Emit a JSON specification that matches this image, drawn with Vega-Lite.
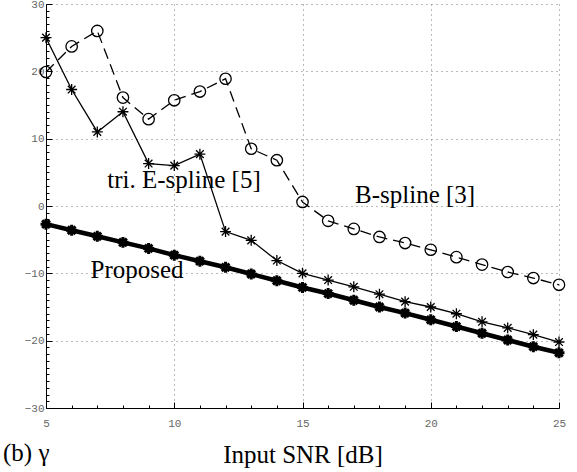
{
  "$schema": "https://vega.github.io/schema/vega-lite/v6.json",
  "width": 513,
  "height": 404,
  "autosize": {"type": "none"},
  "padding": {"left": 46, "top": 4, "right": 18, "bottom": 64},
  "background": "white",
  "title": {
    "text": "(b) γ",
    "orient": "bottom",
    "anchor": "start",
    "frame": "group",
    "font": "Liberation Serif",
    "fontSize": 25,
    "fontWeight": "normal",
    "color": "black",
    "baseline": "alphabetic",
    "offset": -6,
    "dx": -43
  },
  "config": {
    "view": {"stroke": null},
    "axis": {
      "domainColor": "black",
      "domainWidth": 1,
      "tickColor": "black",
      "tickWidth": 1,
      "gridColor": "#777",
      "gridDash": [1, 4],
      "gridWidth": 1,
      "labelFont": "Liberation Mono",
      "labelFontSize": 11,
      "labelColor": "#666",
      "titleFont": "Liberation Serif",
      "titleFontSize": 25,
      "titleFontWeight": "normal",
      "titleColor": "black"
    }
  },
  "datasets": {
    "curves": [
      {"snr": 5, "gamma": -2.7, "method": "Proposed"},
      {"snr": 6, "gamma": -3.6, "method": "Proposed"},
      {"snr": 7, "gamma": -4.5, "method": "Proposed"},
      {"snr": 8, "gamma": -5.4, "method": "Proposed"},
      {"snr": 9, "gamma": -6.3, "method": "Proposed"},
      {"snr": 10, "gamma": -7.3, "method": "Proposed"},
      {"snr": 11, "gamma": -8.2, "method": "Proposed"},
      {"snr": 12, "gamma": -9.1, "method": "Proposed"},
      {"snr": 13, "gamma": -10.1, "method": "Proposed"},
      {"snr": 14, "gamma": -11.1, "method": "Proposed"},
      {"snr": 15, "gamma": -12.1, "method": "Proposed"},
      {"snr": 16, "gamma": -13.0, "method": "Proposed"},
      {"snr": 17, "gamma": -14.0, "method": "Proposed"},
      {"snr": 18, "gamma": -15.0, "method": "Proposed"},
      {"snr": 19, "gamma": -15.9, "method": "Proposed"},
      {"snr": 20, "gamma": -16.9, "method": "Proposed"},
      {"snr": 21, "gamma": -17.9, "method": "Proposed"},
      {"snr": 22, "gamma": -18.9, "method": "Proposed"},
      {"snr": 23, "gamma": -19.9, "method": "Proposed"},
      {"snr": 24, "gamma": -20.9, "method": "Proposed"},
      {"snr": 25, "gamma": -21.8, "method": "Proposed"},
      {"snr": 5, "gamma": 25.0, "method": "tri"},
      {"snr": 6, "gamma": 17.3, "method": "tri"},
      {"snr": 7, "gamma": 11.0, "method": "tri"},
      {"snr": 8, "gamma": 14.0, "method": "tri"},
      {"snr": 9, "gamma": 6.3, "method": "tri"},
      {"snr": 10, "gamma": 6.0, "method": "tri"},
      {"snr": 11, "gamma": 7.7, "method": "tri"},
      {"snr": 12, "gamma": -3.8, "method": "tri"},
      {"snr": 13, "gamma": -5.1, "method": "tri"},
      {"snr": 14, "gamma": -8.1, "method": "tri"},
      {"snr": 15, "gamma": -10.0, "method": "tri"},
      {"snr": 16, "gamma": -11.0, "method": "tri"},
      {"snr": 17, "gamma": -12.0, "method": "tri"},
      {"snr": 18, "gamma": -13.1, "method": "tri"},
      {"snr": 19, "gamma": -14.2, "method": "tri"},
      {"snr": 20, "gamma": -15.0, "method": "tri"},
      {"snr": 21, "gamma": -16.0, "method": "tri"},
      {"snr": 22, "gamma": -17.2, "method": "tri"},
      {"snr": 23, "gamma": -18.1, "method": "tri"},
      {"snr": 24, "gamma": -19.1, "method": "tri"},
      {"snr": 25, "gamma": -20.2, "method": "tri"},
      {"snr": 5, "gamma": 19.9, "method": "B"},
      {"snr": 6, "gamma": 23.7, "method": "B"},
      {"snr": 7, "gamma": 26.0, "method": "B"},
      {"snr": 8, "gamma": 16.1, "method": "B"},
      {"snr": 9, "gamma": 12.9, "method": "B"},
      {"snr": 10, "gamma": 15.7, "method": "B"},
      {"snr": 11, "gamma": 17.0, "method": "B"},
      {"snr": 12, "gamma": 18.9, "method": "B"},
      {"snr": 13, "gamma": 8.5, "method": "B"},
      {"snr": 14, "gamma": 6.8, "method": "B"},
      {"snr": 15, "gamma": 0.6, "method": "B"},
      {"snr": 16, "gamma": -2.2, "method": "B"},
      {"snr": 17, "gamma": -3.4, "method": "B"},
      {"snr": 18, "gamma": -4.6, "method": "B"},
      {"snr": 19, "gamma": -5.5, "method": "B"},
      {"snr": 20, "gamma": -6.5, "method": "B"},
      {"snr": 21, "gamma": -7.6, "method": "B"},
      {"snr": 22, "gamma": -8.7, "method": "B"},
      {"snr": 23, "gamma": -9.8, "method": "B"},
      {"snr": 24, "gamma": -10.7, "method": "B"},
      {"snr": 25, "gamma": -11.7, "method": "B"}
    ],
    "labels": [
      {"snr": 10.38, "gamma": 2.7, "label": "tri. E-spline [5]"},
      {"snr": 19.39, "gamma": 0.4, "label": "B-spline [3]"},
      {"snr": 8.55, "gamma": -10.65, "label": "Proposed"}
    ]
  },
  "encoding": {
    "x": {
      "field": "snr",
      "type": "quantitative",
      "scale": {"domain": [5, 25], "nice": false, "zero": false},
      "axis": {
        "title": "Input SNR [dB]",
        "titleBaseline": "alphabetic",
        "titleY": 54,
        "tickCount": 80,
        "format": "d",
        "labelExpr": "abs(datum.value - round(datum.value / 5) * 5) < 0.001 ? format(datum.value, 'd') : ''",
        "tickSize": {"condition": {"test": "abs(datum.value - round(datum.value / 5) * 5) < 0.001", "value": -6}, "value": -3},
        "gridOpacity": {"condition": {"test": "abs(datum.value - round(datum.value / 5) * 5) < 0.001", "value": 1}, "value": 0},
        "grid": true,
        "labelPadding": 15,
        "labelFlush": false,
        "labelOverlap": false
      }
    },
    "y": {
      "field": "gamma",
      "type": "quantitative",
      "scale": {"domain": [-30, 30], "nice": false, "zero": false},
      "axis": {
        "title": null,
        "tickCount": 60,
        "format": "d",
        "labelExpr": "abs(datum.value - round(datum.value / 10) * 10) < 0.001 ? format(datum.value, 'd') : ''",
        "tickSize": {"condition": {"test": "abs(datum.value - round(datum.value / 10) * 10) < 0.001", "value": -6}, "value": -3},
        "gridOpacity": {"condition": {"test": "abs(datum.value - round(datum.value / 10) * 10) < 0.001", "value": 1}, "value": 0},
        "grid": true,
        "labelPadding": 8,
        "labelFlush": false,
        "labelOverlap": false
      }
    }
  },
  "layer": [
    {
      "data": {"name": "curves"},
      "transform": [{"filter": "datum.method === 'B'"}],
      "mark": {"type": "line", "color": "black", "strokeWidth": 1.3, "strokeDash": [11, 6]}
    },
    {
      "data": {"name": "curves"},
      "transform": [{"filter": "datum.method === 'B'"}],
      "mark": {"type": "point", "shape": "circle", "filled": false, "color": "black", "strokeWidth": 1.3, "size": 130, "opacity": 1}
    },
    {
      "data": {"name": "curves"},
      "transform": [{"filter": "datum.method === 'tri'"}],
      "mark": {"type": "line", "color": "black", "strokeWidth": 1.3}
    },
    {
      "data": {"name": "curves"},
      "transform": [{"filter": "datum.method === 'tri'"}],
      "mark": {"type": "point", "shape": "M0,-1L0,1M-1,0L1,0M-0.7,-0.7L0.7,0.7M-0.7,0.7L0.7,-0.7", "filled": false, "color": "black", "strokeWidth": 1.3, "size": 120, "opacity": 1}
    },
    {
      "data": {"name": "curves"},
      "transform": [{"filter": "datum.method === 'Proposed'"}],
      "mark": {"type": "line", "color": "black", "strokeWidth": 4.5}
    },
    {
      "data": {"name": "curves"},
      "transform": [{"filter": "datum.method === 'Proposed'"}],
      "mark": {"type": "point", "shape": "M0,-1L0,1M-1,0L1,0M-0.7,-0.7L0.7,0.7M-0.7,0.7L0.7,-0.7", "filled": false, "color": "black", "strokeWidth": 3, "size": 120, "opacity": 1}
    },
    {
      "data": {"name": "labels"},
      "mark": {"type": "text", "font": "Liberation Serif", "fontSize": 25, "align": "center", "baseline": "alphabetic", "color": "black"},
      "encoding": {"text": {"field": "label"}}
    }
  ]
}
